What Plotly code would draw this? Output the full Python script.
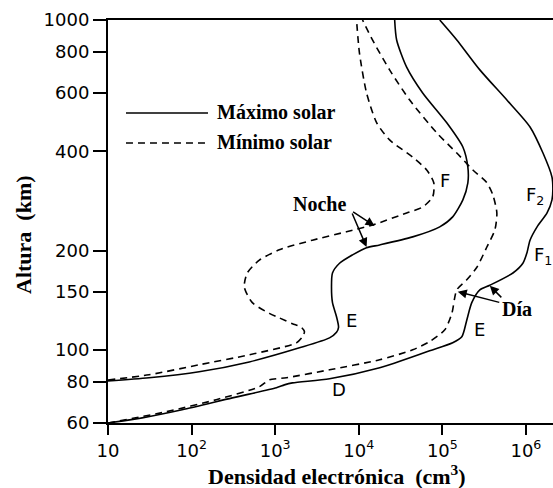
import math
import plotly.graph_objects as go

# Electron density profiles of the ionosphere (cm^-3) versus altitude (km)
# Day, solar maximum
day_max_density = [10, 25.6, 77, 307, 1034, 1289, 1608, 4470, 17800, 70600, 133000,
                   171000, 196000, 225000, 281000, 370000, 699000, 920000, 1030000,
                   1120000, 1360000, 1790000, 2050000, 2100000, 2050000, 1600000,
                   1120000, 592000, 281000, 149000, 93100]
day_max_altitude = [60, 62.2, 65.8, 71.5, 76.7, 78.3, 79.4, 81.7, 88.2, 99.3, 105,
                    109.5, 123, 139, 152, 157, 171, 183, 197, 215, 236, 260, 285, 305,
                    334, 395, 474, 572, 706, 870, 1000]

# Day, solar minimum
day_min_density = [10, 49.6, 197, 647, 852, 1362, 4470, 17800, 44200, 70600, 107000,
                   130000, 149000, 196000, 259000, 341000, 425000, 449000, 402000,
                   341000, 232000, 149000, 85700, 40700, 23400, 14600, 11100]
day_min_altitude = [60, 64.9, 70.6, 77.3, 81.1, 82.3, 87, 93.3, 100, 106, 115, 129,
                    152, 163, 178, 205, 231, 260, 295, 321, 351, 395, 455, 572, 706,
                    870, 1000]

# Night, solar maximum
night_max_density = [10, 31, 123, 490, 1951, 4470, 5420, 5730, 5420, 4850, 4720, 4850,
                     5890, 8430, 12400, 17800, 44200, 93100, 133000, 176000, 202000,
                     202000, 176000, 113000, 58200, 37400, 28400, 26900]
night_max_altitude = [80.5, 82.3, 85.8, 91.9, 101.4, 108.7, 113, 117, 126, 139, 155,
                      171, 183, 194, 204, 208, 220, 236, 253, 285, 321, 358, 412, 488,
                      601, 720, 870, 1000]

# Night, solar minimum
night_min_density = [10, 31, 123, 490, 1796, 2120, 2240, 2060, 1610, 1120, 852, 533,
                     427, 464, 647, 1120, 2790, 7140, 14600, 37400, 58200, 76700, 79000,
                     65000, 44200, 23400, 16400, 12400, 10200, 9410]
night_min_altitude = [81, 84, 90.1, 96.6, 105, 109.5, 113.5, 117, 120, 125, 129, 139,
                      155, 171, 187, 201, 215, 228, 239, 260, 271, 291, 321, 351, 384,
                      433, 488, 601, 794, 1000]

x_tick_values = [10, 1e2, 1e3, 1e4, 1e5, 1e6]
x_tick_labels = ["10", "10<sup>2</sup>", "10<sup>3</sup>", "10<sup>4</sup>",
                 "10<sup>5</sup>", "10<sup>6</sup>"]
y_tick_values = [60, 80, 100, 150, 200, 400, 600, 800, 1000]
y_tick_labels = ["60", "80", "100", "150", "200", "400", "600", "800", "1000"]

SOLID = "solid"
DASHED = "7px,5px"

fig = go.Figure()
series = [
    (day_max_density, day_max_altitude, SOLID),
    (night_max_density, night_max_altitude, SOLID),
    (day_min_density, day_min_altitude, DASHED),
    (night_min_density, night_min_altitude, DASHED),
]
for dens, alt, dash in series:
    fig.add_trace(go.Scatter(
        x=dens, y=alt, mode="lines",
        line=dict(color="black", width=1.6, dash=dash, shape="spline", smoothing=0.7),
        showlegend=False, hoverinfo="skip",
    ))

tick_font = dict(family="DejaVu Sans", size=18, color="black")
serif_bold = dict(family="Liberation Serif", size=20, color="black")
title_font = dict(family="Liberation Serif", size=22, color="black")

fig.update_layout(
    width=553, height=488,
    margin=dict(l=108, r=0, t=20, b=65),
    paper_bgcolor="white", plot_bgcolor="white",
    xaxis=dict(
        type="log", range=[1, 6.324],
        showgrid=False, zeroline=False,
        showline=True, linecolor="black", linewidth=2, mirror=True,
        ticks="outside", ticklen=10, tickwidth=1.5, tickcolor="black",
        tickvals=x_tick_values, ticktext=x_tick_labels, tickfont=tick_font,
    ),
    yaxis=dict(
        type="log", range=[math.log10(60), 3],
        showgrid=False, zeroline=False,
        showline=True, linecolor="black", linewidth=2,
        ticks="outside", ticklen=13, tickwidth=2, tickcolor="black",
        tickvals=y_tick_values, ticktext=y_tick_labels, tickfont=tick_font,
    ),
)

annotations = []

# Axis titles
annotations.append(dict(
    text="<b>Densidad electrónica  (cm<sup>3</sup>)</b>", xref="paper", yref="paper",
    x=0.5146, y=-0.128, showarrow=False, xanchor="center", yanchor="middle",
    font=title_font,
))
annotations.append(dict(
    text="<b>Altura  (km)</b>", xref="paper", yref="paper", textangle=-90,
    x=-0.191, y=0.4665, showarrow=False, xanchor="center", yanchor="middle",
    font=title_font,
))

# Legend
legend_items = [("Máximo solar", 0.7692, SOLID), ("Mínimo solar", 0.6948, DASHED)]
shapes = []
for label, ypos, dash in legend_items:
    shapes.append(dict(
        type="line", xref="paper", yref="paper", x0=0.0404, x1=0.2247, y0=ypos, y1=ypos,
        line=dict(color="black", width=1.6, dash=dash),
    ))
    annotations.append(dict(
        text="<b>" + label + "</b>", xref="paper", yref="paper", x=0.2404, y=ypos + 0.002,
        showarrow=False, xanchor="left", yanchor="middle", font=serif_bold,
    ))


def lg(v):
    return math.log10(v)


# Layer labels
layer_labels = [
    ("F", 106900, 327),
    ("E", 8200, 123),
    ("E", 280800, 115),
    ("D", 5725, 75.6),
    ("F<sub>2</sub>", 1280000, 293),
    ("F<sub>1</sub>", 1600000, 192),
]
for text, xv, yv in layer_labels:
    annotations.append(dict(
        text=text, x=lg(xv), y=lg(yv), showarrow=False,
        xanchor="center", yanchor="middle", font=tick_font,
    ))

# Noche / Día labels with arrows
annotations.append(dict(text="<b>Noche</b>", x=lg(3390), y=lg(277), showarrow=False,
                        xanchor="center", yanchor="middle", font=serif_bold))
annotations.append(dict(text="<b>Día</b>", x=lg(780000), y=lg(133), showarrow=False,
                        xanchor="center", yanchor="middle", font=serif_bold))

arrows = [
    (15470, 237.5, -23, -15),
    (12400, 205, -15, -35),
    (153000, 150, 43, 11),
    (370200, 156.3, 13, 13),
]
for xv, yv, axp, ayp in arrows:
    annotations.append(dict(
        text="", x=lg(xv), y=lg(yv), ax=axp, ay=ayp, showarrow=True,
        arrowhead=2, arrowsize=1.2, arrowwidth=1.5, arrowcolor="black", standoff=0,
    ))

fig.update_layout(annotations=annotations, shapes=shapes)

fig.write_html("out.html")
